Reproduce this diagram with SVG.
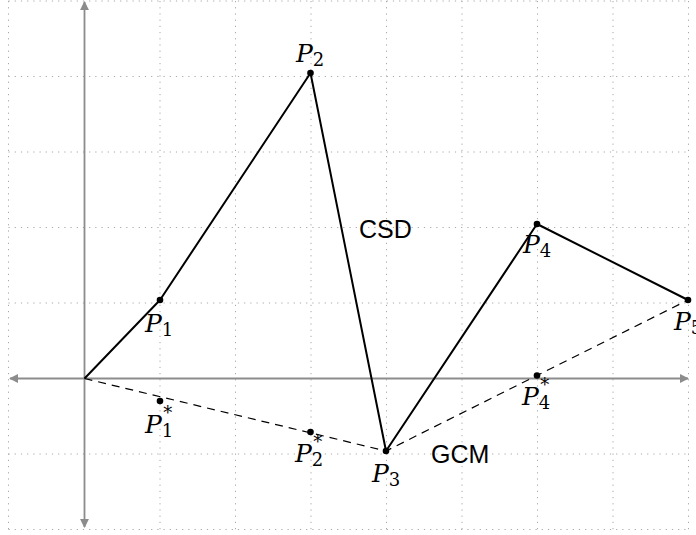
<svg xmlns="http://www.w3.org/2000/svg" width="696" height="535" viewBox="0 0 696 535">
<style>
.grid{stroke:#a8a8a8;stroke-width:1;stroke-dasharray:1.2 5;fill:none}
.axis{stroke:#8c8c8c;stroke-width:1.8;fill:none}
.csd{stroke:#000;stroke-width:2;fill:none;stroke-linejoin:round}
.gcm{stroke:#000;stroke-width:1.2;fill:none;stroke-dasharray:8 6}
.pt{fill:#000}
.lbl{font-family:"DejaVu Serif","Liberation Serif",serif;font-style:italic;font-size:25px;fill:#000}
.sub{font-family:"DejaVu Serif","Liberation Serif",serif;font-style:normal;font-size:18px}
.txt{font-family:"Liberation Sans",Arial,sans-serif;font-size:25px;fill:#000}
</style>
<defs>
<marker id="ah" viewBox="0 0 10 10" refX="9" refY="5" markerWidth="5" markerHeight="5" orient="auto-start-reverse" markerUnits="strokeWidth">
<path d="M0,0 L10,5 L0,10 z" fill="#8c8c8c"/>
</marker>
</defs>
<g id="grid">
<path class="grid" d="M8.5,1V529.5M160,1V529.5M235.5,1V529.5M311,1V529.5M386.5,1V529.5M462,1V529.5M537.5,1V529.5M613,1V529.5M688.5,1V529.5"/>
<path class="grid" d="M8.5,1H689M8.5,76.5H689M8.5,152H689M8.5,227.5H689M8.5,303H689M8.5,454H689M8.5,529.5H689"/>
</g>
<g id="axes">
<line class="axis" x1="10" y1="378.5" x2="688" y2="378.5" marker-start="url(#ah)" marker-end="url(#ah)"/>
<line class="axis" x1="84.5" y1="2" x2="84.5" y2="527" marker-start="url(#ah)" marker-end="url(#ah)"/>
</g>
<g id="connectors">
<polyline id="csd-line" class="csd" points="84.5,378.5 160,300 310.5,73 386,451 537,224 688,300"/>
<polyline id="gcm-line" class="gcm" points="84.5,378.5 386,451 688,300"/>
</g>
<g id="P1"><circle class="pt" cx="160" cy="300" r="3.3"/><text class="lbl" x="145" y="332">P<tspan class="sub" dy="4">1</tspan></text></g>
<g id="P2"><circle class="pt" cx="310.5" cy="73" r="3.3"/><text class="lbl" x="296" y="62">P<tspan class="sub" dy="4">2</tspan></text></g>
<g id="P3"><circle class="pt" cx="386" cy="451" r="3.3"/><text class="lbl" x="372" y="482">P<tspan class="sub" dy="4">3</tspan></text></g>
<g id="P4"><circle class="pt" cx="537" cy="224" r="3.3"/><text class="lbl" x="523" y="253">P<tspan class="sub" dy="4">4</tspan></text></g>
<g id="P5"><circle class="pt" cx="688" cy="300" r="3.3"/><text class="lbl" x="674" y="330">P<tspan class="sub" dy="4">5</tspan></text></g>
<g id="P1s"><circle class="pt" cx="160" cy="401" r="3.3"/><text class="lbl" x="145" y="433">P<tspan class="sub" dy="4">1</tspan><tspan class="sub" dx="-10" dy="-18">*</tspan></text></g>
<g id="P2s"><circle class="pt" cx="310.5" cy="432" r="3.3"/><text class="lbl" x="295" y="462">P<tspan class="sub" dy="4">2</tspan><tspan class="sub" dx="-10" dy="-18">*</tspan></text></g>
<g id="P4s"><circle class="pt" cx="537" cy="375.5" r="3.3"/><text class="lbl" x="522" y="405">P<tspan class="sub" dy="4">4</tspan><tspan class="sub" dx="-10" dy="-18">*</tspan></text></g>
<g id="labels">
<text class="txt" x="359" y="238">CSD</text>
<text class="txt" x="431" y="463">GCM</text>
</g>
</svg>
